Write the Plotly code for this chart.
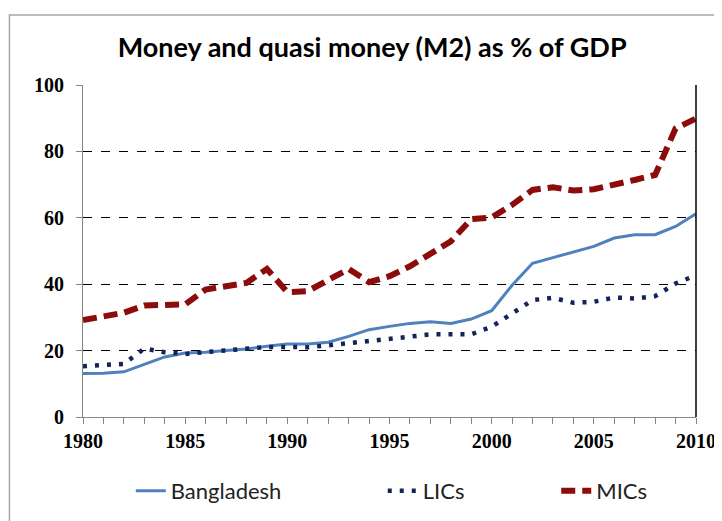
import plotly.graph_objects as go

# M2 as % of GDP
years = list(range(1980, 2011))
bangladesh = [13.1, 13.2, 13.6, 15.8, 18.1, 19.3, 19.5, 20.0, 20.5, 21.3, 22.0, 22.0, 22.5, 24.3, 26.3,
              27.3, 28.2, 28.7, 28.2, 29.5, 32.0, 39.7, 46.3, 48.0, 49.7, 51.4, 53.9, 54.9, 54.9, 57.4, 61.2]
lics = [15.3, 15.8, 16.0, 20.6, 19.5, 19.0, 19.5, 20.2, 20.4, 21.1, 21.1, 21.0, 21.6, 22.2, 22.7,
        23.4, 24.2, 24.9, 25.0, 24.9, 27.2, 31.4, 35.2, 35.9, 34.4, 34.7, 36.0, 35.7, 36.4, 40.2, 42.7]
mics = [29.2, 30.2, 31.4, 33.6, 33.6, 33.9, 38.4, 39.4, 40.4, 44.6, 37.6, 37.9, 41.2, 44.6, 40.6,
        42.4, 45.4, 48.9, 52.9, 59.6, 60.1, 63.9, 68.4, 69.2, 68.2, 68.6, 70.2, 71.4, 72.9, 86.9, 89.9]

title = "Money and quasi money (M2) as % of GDP"
tick_font = dict(family="Liberation Serif", size=20, color="black")
leg_font = dict(family="Lato", size=22, color="#222222")

fig = go.Figure()
fig.add_trace(go.Scatter(x=years, y=bangladesh, name="Bangladesh", mode="lines",
                         line=dict(color="#4F81BD", width=3), legend="legend", showlegend=True))
fig.add_trace(go.Scatter(x=years, y=lics, name="LICs", mode="lines",
                         line=dict(color="#14245A", width=4.5, dash="4px,8px"), legend="legend2", showlegend=True))
fig.add_trace(go.Scatter(x=years, y=mics, name="MICs", mode="lines",
                         line=dict(color="#8C0C0C", width=6, dash="14px,7px"), legend="legend3", showlegend=True))

# page body has an 8px margin, so the figure is 8px smaller than the window
leg = dict(orientation="h", yanchor="middle", y=-0.223, xanchor="left",
           font=leg_font, bgcolor="rgba(0,0,0,0)")
fig.update_layout(
    width=714, height=513,
    margin=dict(l=75, r=26, t=77, b=104, autoexpand=False),
    showlegend=True,
    paper_bgcolor="white", plot_bgcolor="white",
    title=dict(text=title, x=0.51, xref="container", xanchor="center", y=0.922, yanchor="middle",
               font=dict(family="Lato", size=27, color="black", weight="bold")),
    legend=dict(leg, x=0.078),
    legend2=dict(leg, x=0.489),
    legend3=dict(leg, x=0.772),
    xaxis=dict(range=[1980, 2010], tickmode="linear", tick0=1980, dtick=5,
               showgrid=False, zeroline=False, showline=True, linecolor="#868686", linewidth=1,
               ticks="outside", ticklen=6, tickcolor="#868686",
               minor=dict(dtick=1, ticks="outside", ticklen=6, tickcolor="#868686", showgrid=False),
               tickfont=dict(tick_font, weight="bold")),
    yaxis=dict(range=[0, 100], tickmode="linear", dtick=20,
               showgrid=True, gridcolor="black", gridwidth=1, griddash="dash",
               zeroline=False, showline=True, linecolor="#868686", linewidth=1,
               ticks="outside", ticklen=6, tickcolor="#868686", ticklabelstandoff=8,
               tickfont=dict(tick_font, weight="bold")),
    shapes=[
        dict(type="line", xref="paper", yref="paper", x0=1, x1=1, y0=0, y1=1,
             line=dict(color="black", width=1.5)),
        dict(type="rect", xref="paper", yref="paper", x0=-0.12, x1=1.06, y0=-0.34, y1=1.211,
             line=dict(color="#A6A6A6", width=1.5), layer="below"),
    ],
)

fig.write_html("out.html")
